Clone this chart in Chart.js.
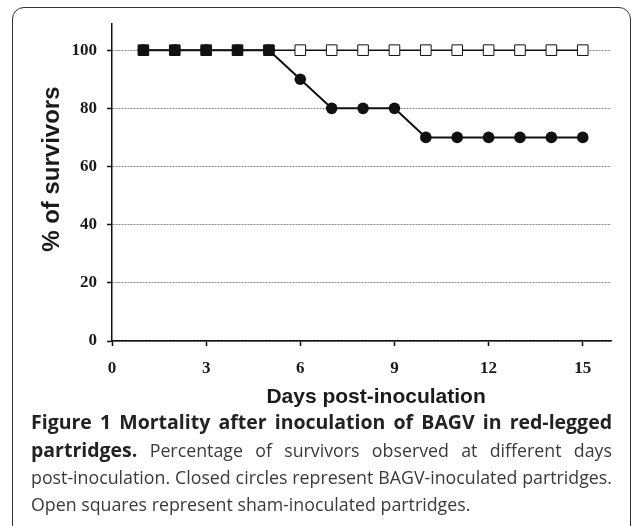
<!DOCTYPE html>
<html>
<head>
<meta charset="utf-8">
<script src="https://cdn.jsdelivr.net/npm/chart.js@4.4.1/dist/chart.umd.min.js"></script>
<style>
  html, body { margin: 0; padding: 0; background: #fff; }
  body { width: 632px; height: 526px; position: relative; overflow: hidden; }
  .frame {
    position: absolute; left: 12px; top: 7px; width: 619px; height: 560px;
    box-sizing: border-box; border: 1.5px solid #333; border-radius: 12px;
  }
  #chartBox { position: absolute; left: 0; top: 0; width: 632px; height: 416px; }
  .caption {
    position: absolute; left: 31px; top: 408px; width: 581px;
    font-family: "Open Sans", sans-serif; font-size: 17.8px; line-height: 27px; color: #3a3a3a;
  }
  .caption div { white-space: nowrap; }
  .caption .just { text-align: justify; text-align-last: justify; }
  .caption b { color: #222; font-weight: 700; font-size: 19.5px; }
</style>
</head>
<body>
<div class="frame"></div>
<div id="chartBox"><canvas id="survivalChart" width="632" height="416"></canvas></div>
<div class="caption">
  <div class="just"><b>Figure 1 Mortality after inoculation of BAGV in red-legged</b></div>
  <div class="just"><b>partridges.</b> Percentage of survivors observed at different days</div>
  <div class="just">post-inoculation. Closed circles represent BAGV-inoculated partridges.</div>
  <div>Open squares represent sham-inoculated partridges.</div>
</div>
<script>
// data
const days = [1, 2, 3, 4, 5, 6, 7, 8, 9, 10, 11, 12, 13, 14, 15];
const bagvInoculated = [100, 100, 100, 100, 100, 90, 80, 80, 80, 70, 70, 70, 70, 70, 70];
const shamInoculated = [100, 100, 100, 100, 100, 100, 100, 100, 100, 100, 100, 100, 100, 100, 100];
const xTicks = [0, 3, 6, 9, 12, 15];
const yTicks = [0, 20, 40, 60, 80, 100];

document.addEventListener("DOMContentLoaded", function () {
    const tickFont = { family: "'Liberation Serif', 'Times New Roman', serif", size: 17, weight: "bold" };

    new Chart(document.getElementById("survivalChart"), {
        type: "line",
        data: {
            datasets: [
                {
                    label: "BAGV-inoculated",
                    data: days.map((d, i) => ({ x: d, y: bagvInoculated[i] })),
                    borderColor: "#111",
                    borderWidth: 2,
                    pointStyle: "circle",
                    pointRadius: 5.8,
                    pointBorderWidth: 0,
                    pointBackgroundColor: "#111",
                    tension: 0
                },
                {
                    label: "Sham-inoculated",
                    data: days.map((d, i) => ({ x: d, y: shamInoculated[i] })),
                    borderColor: "#111",
                    borderWidth: 1.5,
                    pointStyle: "rect",
                    pointRadius: 7.5,
                    pointBorderWidth: 1,
                    pointBorderColor: "#111",
                    // square looks filled where the circle sits on it
                    pointBackgroundColor: ctx =>
                        bagvInoculated[ctx.dataIndex] === shamInoculated[ctx.dataIndex] ? "#111" : "#fff",
                    tension: 0
                }
            ]
        },
        options: {
            responsive: false,
            animation: false,
            layout: { padding: { left: 0, top: 24, right: 21, bottom: 3 } },
            plugins: { legend: { display: false }, tooltip: { enabled: false } },
            scales: {
                x: {
                    type: "linear",
                    min: 0,
                    max: 15.9,
                    afterBuildTicks: s => { s.ticks = xTicks.map(v => ({ value: v })); },
                    afterFit: s => { s.height = 72; },
                    ticks: { font: tickFont, color: "#1a1a1a", padding: 12 },
                    grid: { drawOnChartArea: false, drawTicks: true, tickLength: 5, tickColor: "#111", tickWidth: 1.5 },
                    border: { color: "#111", width: 1.5 },
                    title: {
                        display: true,
                        text: "     Days post-inoculation",
                        color: "#1a1a1a",
                        font: { family: "'Liberation Sans', Arial, sans-serif", size: 21, weight: "bold" },
                        padding: { top: 0, bottom: 3 }
                    }
                },
                y: {
                    min: 0,
                    max: 109,
                    afterBuildTicks: s => { s.ticks = yTicks.map(v => ({ value: v })); },
                    afterFit: s => { s.width = 112; },
                    ticks: { font: tickFont, color: "#1a1a1a", padding: 10 },
                    grid: { color: "#8a8a8a", lineWidth: 1, tickLength: 5, tickColor: "#111", tickWidth: 1.5 },
                    border: { color: "#111", width: 1.5, dash: [2, 1] },
                    title: {
                        display: true,
                        text: "    % of survivors",
                        color: "#1a1a1a",
                        font: { family: "'Liberation Sans', Arial, sans-serif", size: 24, weight: "bold" },
                        padding: { top: 38, bottom: 0 }
                    }
                }
            }
        }
    });
});
</script>
</body>
</html>
